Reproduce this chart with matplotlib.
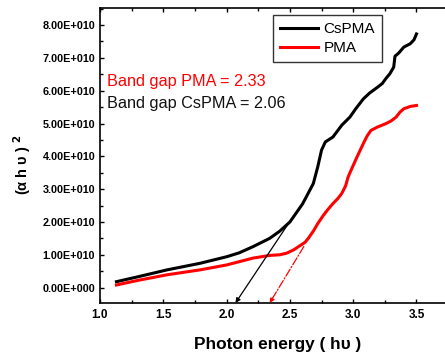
import matplotlib
matplotlib.use("Agg")
import matplotlib.pyplot as plt
from matplotlib.ticker import FuncFormatter, MultipleLocator
import numpy as np

plt.rcParams['font.family'] = ['Liberation Sans', 'DejaVu Sans']

# photon energy (eV) and (alpha h nu)^2 in units of 1E+10
cspma_x = [1.13, 1.3, 1.53, 1.79, 2.0, 2.1, 2.21, 2.34, 2.42, 2.5, 2.6, 2.685, 2.72,
           2.75, 2.78, 2.84, 2.91, 2.975, 3.02, 3.08, 3.13, 3.19, 3.23, 3.26, 3.29,
           3.32, 3.33, 3.36, 3.40, 3.45, 3.48, 3.50]
cspma_y = [0.18, 0.33, 0.54, 0.74, 0.94, 1.06, 1.25, 1.5, 1.72, 2.0, 2.55, 3.17, 3.68,
           4.19, 4.44, 4.59, 4.95, 5.2, 5.45, 5.75, 5.93, 6.1, 6.22, 6.38, 6.52,
           6.72, 7.05, 7.15, 7.33, 7.43, 7.55, 7.73]

pma_x = [1.13, 1.3, 1.53, 1.79, 2.0, 2.21, 2.34, 2.42, 2.475, 2.53, 2.58, 2.62, 2.645,
         2.685, 2.72, 2.764, 2.8, 2.84, 2.88, 2.91, 2.94, 2.96, 2.98, 3.03, 3.08,
         3.11, 3.14, 3.19, 3.26, 3.30, 3.34, 3.37, 3.40, 3.45, 3.50]
pma_y = [0.08, 0.22, 0.39, 0.54, 0.69, 0.9, 0.98, 1.0, 1.05, 1.15, 1.28, 1.38, 1.5,
         1.72, 1.95, 2.2, 2.38, 2.56, 2.72, 2.87, 3.1, 3.37, 3.55, 3.98, 4.39,
         4.62, 4.79, 4.89, 5.0, 5.08, 5.2, 5.35, 5.45, 5.52, 5.55]

# tangent (extrapolation) lines: start point on curve, end at axis
cs_tan = [(2.49, 1.96), (2.07, -0.47)]
pma_tan = [(2.61, 1.25), (2.34, -0.47)]

scale = 1e10

fig = plt.figure(figsize=(4.45, 3.58), dpi=100)
ax = fig.add_axes([0.2247, 0.1536, 0.7966, 0.824])

ax.plot(cspma_x, np.array(cspma_y) * scale, color='black', lw=2.2, label='CsPMA')
ax.plot(pma_x, np.array(pma_y) * scale, color='red', lw=2.2, label='PMA')

ax.annotate('', xy=(cs_tan[1][0], cs_tan[1][1] * scale), xytext=(cs_tan[0][0], cs_tan[0][1] * scale),
            arrowprops=dict(arrowstyle='-|>', color='black', lw=0.9, mutation_scale=7, shrinkA=0, shrinkB=0))
ax.annotate('', xy=(pma_tan[1][0], pma_tan[1][1] * scale), xytext=(pma_tan[0][0], pma_tan[0][1] * scale),
            arrowprops=dict(arrowstyle='-|>', color='red', lw=0.9, linestyle='-.', mutation_scale=7,
                            shrinkA=0, shrinkB=0))

ax.set_xlim(1.0, 3.8)
ax.set_ylim(-0.47 * scale, 8.52 * scale)

ax.xaxis.set_major_locator(MultipleLocator(0.5))
ax.xaxis.set_minor_locator(MultipleLocator(0.25))
ax.yaxis.set_major_locator(MultipleLocator(1 * scale))
ax.yaxis.set_minor_locator(MultipleLocator(0.5 * scale))


def yfmt(v, pos):
    if abs(v) < 1:
        return '0.00E+000'
    return f'{v / scale:.2f}E+010'


ax.yaxis.set_major_formatter(FuncFormatter(yfmt))
ax.tick_params(axis='both', which='major', direction='out', length=3, width=1)
ax.tick_params(axis='both', which='minor', direction='out', length=2, width=1)
ax.tick_params(axis='y', labelsize=7.8, pad=3.5)
ax.tick_params(axis='x', labelsize=8.5, pad=4.5)
ax.tick_params(top=True, which='both', direction='in')
for lab in ax.get_xticklabels() + ax.get_yticklabels():
    lab.set_fontweight('bold')
for s in ax.spines.values():
    s.set_linewidth(1.2)

ax.set_xlabel('Photon energy ( hυ )', fontsize=12.4, fontweight='bold', labelpad=11)
fig.text(22 / 445, 1 - 165 / 358, r'(α h υ ) $^{\mathbf{2}}$', rotation=90, fontsize=10.5,
         fontweight='bold', ha='center', va='center')

ax.text(0.02, 0.75, 'Band gap PMA = 2.33', transform=ax.transAxes, color='red', fontsize=11.7,
        va='center')
ax.text(0.02, 0.677, 'Band gap CsPMA = 2.06', transform=ax.transAxes, color='#111111', fontsize=11.7,
        va='center')

leg = ax.legend(loc='upper left', bbox_to_anchor=(273 / 445, 1 - 15 / 358), bbox_transform=fig.transFigure,
                fontsize=11, frameon=True, fancybox=False, handlelength=2.5, handletextpad=0.35,
                borderpad=0.45, labelspacing=0.35, borderaxespad=0)
leg.get_frame().set_edgecolor('black')
leg.get_frame().set_linewidth(1.0)

fig.savefig('out.png', dpi=100)
